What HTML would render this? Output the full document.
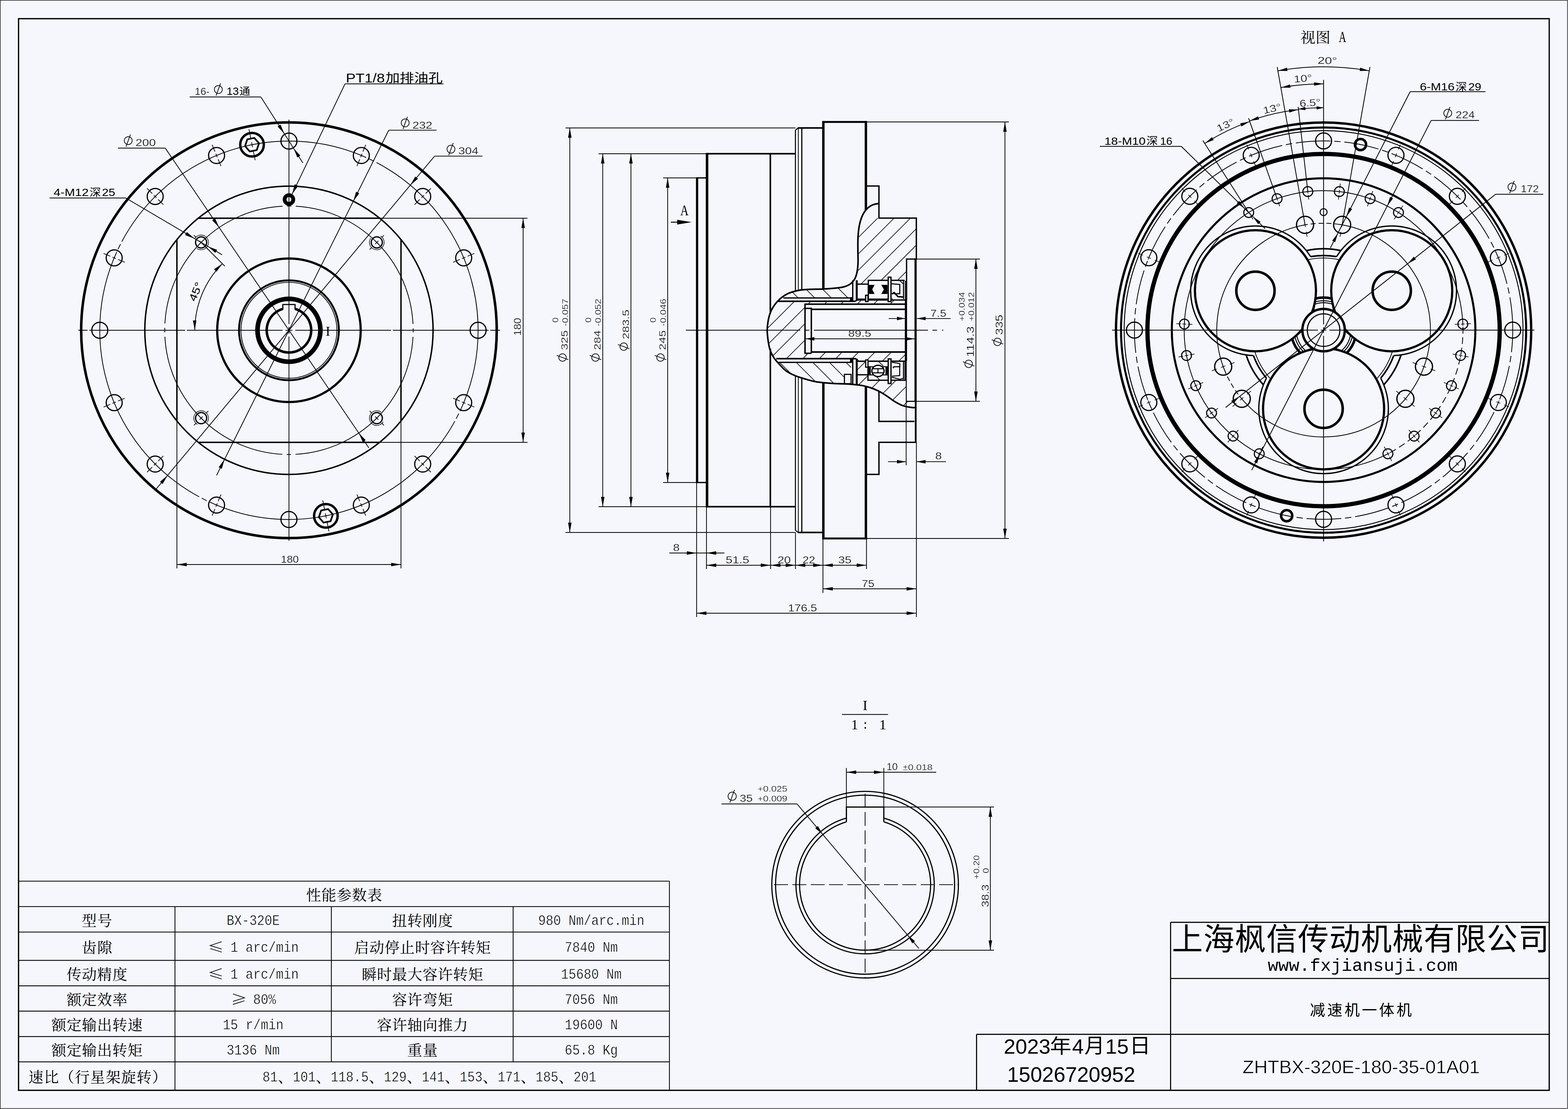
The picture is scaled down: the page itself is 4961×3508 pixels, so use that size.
<!DOCTYPE html>
<html><head><meta charset="utf-8"><title>BX-320E</title>
<style>html,body{margin:0;padding:0;background:#F5F7FC;overflow:hidden}svg{display:block}text{fill:#000;stroke:none;white-space:pre}</style>
</head><body>
<svg width="4961" height="3508" viewBox="0 0 4961 3508" stroke="#000" fill="none" font-family="Liberation Sans, sans-serif" xml:space="preserve">
<defs>
<clipPath id="c_hub"><path d="M2725.6 689.9 L2719.1 712.2 L2714.7 749.1 L2714.3 793.5 L2714.7 830.4 L2711.7 860 L2704.3 882.2 L2711 886 L2713 898.7 L2746.2 898.7 L2746.2 886.8 L2868.3 886.8 L2868.3 819.5 L2899.2 819.5 L2899.2 689.9Z"/></clipPath>
<clipPath id="c_shaft"><path d="M2866 949 L2708 949 L2704 953 L2460.1 953 L2447 970 L2436.6 990.9 L2430 1017 L2427.4 1044.4 L2429.5 1072 L2435.3 1103.2 L2447 1129.3 L2456 1134.5 L2708 1134.5 L2716 1142.8 L2866 1142.8 L2866 1113.6 L2567 1113.6 L2567 1117.5 L2547 1117.5 L2547 962.1 L2866 962.1Z"/></clipPath>
<clipPath id="c_covt"><path d="M2692.7 942.5 L2692.7 896 L2689.5 898.8 L2667.4 908 L2630.4 912.5 L2604.5 914.3 L2556.5 915.4 L2534.3 917.3 L2515.9 921 L2493.7 928.3 L2475.2 939.4 L2478.4 942.5Z"/></clipPath>
<clipPath id="c_covb"><path d="M2462.7 1146.3 L2486.2 1172.4 L2515 1188 L2546.3 1198.5 L2582.9 1207.7 L2635.2 1212.9 L2687.4 1215 L2692.7 1215.2 L2692.7 1213 L2671.7 1213 L2671.7 1184.2 L2692.7 1184.2 L2692.7 1146.3Z"/></clipPath>
<clipPath id="c_hubb"><path d="M2711 1138 L2716 1142.8 L2867.7 1142.8 L2867.7 1269.5 L2896.5 1269.5 L2896.5 1289.2 L2883.4 1288.7 L2857.3 1283.5 L2831.1 1270.4 L2805 1252.1 L2778.9 1236.4 L2752.8 1226 L2726.6 1219.4 L2711 1217.5Z"/></clipPath>
<clipPath id="c_po"><path clip-rule="evenodd" d="M3400 200H5000V1900H3400ZM3951.7 1044.2a236 236 0 1 0 472 0a236 236 0 1 0 -472 0Z"/></clipPath>
<clipPath id="c_pi"><path clip-rule="evenodd" d="M3400 200H5000V1900H3400ZM4120.7 1044.2a67 67 0 1 0 134 0a67 67 0 1 0 -134 0Z"/></clipPath>
</defs>
<rect x="0" y="0" width="4961" height="3508" fill="#F5F7FC" stroke="none"/>
<rect x="0.8" y="0.8" width="4958.6" height="3505.6" stroke-width="1.6"/>
<rect x="58.7" y="59.1" width="4842.9" height="3389.8" stroke-width="4"/>
<line x1="58.7" y1="2787.3" x2="2118" y2="2787.3" stroke-width="2.6"/>
<line x1="2118" y1="2787.3" x2="2118" y2="3448.9" stroke-width="2.6"/>
<line x1="58.7" y1="2867.8" x2="2118" y2="2867.8" stroke-width="2.6"/>
<line x1="58.7" y1="2948.3" x2="2118" y2="2948.3" stroke-width="2.6"/>
<line x1="58.7" y1="3037.9" x2="2118" y2="3037.9" stroke-width="2.6"/>
<line x1="58.7" y1="3118.4" x2="2118" y2="3118.4" stroke-width="2.6"/>
<line x1="58.7" y1="3198.4" x2="2118" y2="3198.4" stroke-width="2.6"/>
<line x1="58.7" y1="3278.9" x2="2118" y2="3278.9" stroke-width="2.6"/>
<line x1="58.7" y1="3358.9" x2="2118" y2="3358.9" stroke-width="2.6"/>
<line x1="553.6" y1="2867.8" x2="553.6" y2="3448.9" stroke-width="2.6"/>
<line x1="1048.3" y1="2867.8" x2="1048.3" y2="3358.9" stroke-width="2.6"/>
<line x1="1623.5" y1="2867.8" x2="1623.5" y2="3358.9" stroke-width="2.6"/>
<text x="968.8" y="2848.1" font-size="47" font-family="Liberation Serif, Noto Serif CJK SC, serif" textLength="240">性能参数表</text>
<text x="258.7" y="2928.6" font-size="47" font-family="Liberation Serif, Noto Serif CJK SC, serif" textLength="96">型号</text>
<text x="717" y="2925.6" font-size="47" font-family="Liberation Mono, serif" textLength="168" lengthAdjust="spacingAndGlyphs" style="stroke:#F5F7FC;stroke-width:0.9px">BX-320E</text>
<text x="1240.4" y="2928.6" font-size="47" font-family="Liberation Serif, Noto Serif CJK SC, serif" textLength="192">扭转刚度</text>
<text x="1702.8" y="2925.6" font-size="47" font-family="Liberation Mono, serif" textLength="336" lengthAdjust="spacingAndGlyphs" style="stroke:#F5F7FC;stroke-width:0.9px">980 Nm/arc.min</text>
<text x="258.7" y="3013.6" font-size="47" font-family="Liberation Serif, Noto Serif CJK SC, serif" textLength="96">齿隙</text>
<path d="M701.5 2978.7 L665 2990.9 L701.5 3002.3" stroke-width="2.2" fill="none"/>
<path d="M665 3000.5 L701.5 3011.8" stroke-width="2.2" fill="none"/>
<text x="705" y="3010.6" font-size="47" font-family="Liberation Mono, serif" textLength="240" lengthAdjust="spacingAndGlyphs" style="stroke:#F5F7FC;stroke-width:0.9px"> 1 arc/min</text>
<text x="1120.4" y="3013.6" font-size="47" font-family="Liberation Serif, Noto Serif CJK SC, serif" textLength="432">启动停止时容许转矩</text>
<text x="1786.8" y="3010.6" font-size="47" font-family="Liberation Mono, serif" textLength="168" lengthAdjust="spacingAndGlyphs" style="stroke:#F5F7FC;stroke-width:0.9px">7840 Nm</text>
<text x="210.7" y="3098.7" font-size="47" font-family="Liberation Serif, Noto Serif CJK SC, serif" textLength="192">传动精度</text>
<path d="M701.5 3063.8 L665 3076 L701.5 3087.3" stroke-width="2.2" fill="none"/>
<path d="M665 3085.6 L701.5 3096.8" stroke-width="2.2" fill="none"/>
<text x="705" y="3095.7" font-size="47" font-family="Liberation Mono, serif" textLength="240" lengthAdjust="spacingAndGlyphs" style="stroke:#F5F7FC;stroke-width:0.9px"> 1 arc/min</text>
<text x="1144.4" y="3098.7" font-size="47" font-family="Liberation Serif, Noto Serif CJK SC, serif" textLength="384">瞬时最大容许转矩</text>
<text x="1774.8" y="3095.7" font-size="47" font-family="Liberation Mono, serif" textLength="192" lengthAdjust="spacingAndGlyphs" style="stroke:#F5F7FC;stroke-width:0.9px">15680 Nm</text>
<text x="210.7" y="3178.9" font-size="47" font-family="Liberation Serif, Noto Serif CJK SC, serif" textLength="192">额定效率</text>
<path d="M737 3144 L773.5 3156.2 L737 3167.6" stroke-width="2.2" fill="none"/>
<path d="M773.5 3165.8 L737 3177.1" stroke-width="2.2" fill="none"/>
<text x="777" y="3175.9" font-size="47" font-family="Liberation Mono, serif" textLength="96" lengthAdjust="spacingAndGlyphs" style="stroke:#F5F7FC;stroke-width:0.9px"> 80%</text>
<text x="1240.4" y="3178.9" font-size="47" font-family="Liberation Serif, Noto Serif CJK SC, serif" textLength="192">容许弯矩</text>
<text x="1786.8" y="3175.9" font-size="47" font-family="Liberation Mono, serif" textLength="168" lengthAdjust="spacingAndGlyphs" style="stroke:#F5F7FC;stroke-width:0.9px">7056 Nm</text>
<text x="162.7" y="3259.2" font-size="47" font-family="Liberation Serif, Noto Serif CJK SC, serif" textLength="288">额定输出转速</text>
<text x="705" y="3256.2" font-size="47" font-family="Liberation Mono, serif" textLength="192" lengthAdjust="spacingAndGlyphs" style="stroke:#F5F7FC;stroke-width:0.9px">15 r/min</text>
<text x="1192.4" y="3259.2" font-size="47" font-family="Liberation Serif, Noto Serif CJK SC, serif" textLength="288">容许轴向推力</text>
<text x="1786.8" y="3256.2" font-size="47" font-family="Liberation Mono, serif" textLength="168" lengthAdjust="spacingAndGlyphs" style="stroke:#F5F7FC;stroke-width:0.9px">19600 N</text>
<text x="162.7" y="3339.4" font-size="47" font-family="Liberation Serif, Noto Serif CJK SC, serif" textLength="288">额定输出转矩</text>
<text x="717" y="3336.4" font-size="47" font-family="Liberation Mono, serif" textLength="168" lengthAdjust="spacingAndGlyphs" style="stroke:#F5F7FC;stroke-width:0.9px">3136 Nm</text>
<text x="1288.4" y="3339.4" font-size="47" font-family="Liberation Serif, Noto Serif CJK SC, serif" textLength="96">重量</text>
<text x="1786.8" y="3336.4" font-size="47" font-family="Liberation Mono, serif" textLength="168" lengthAdjust="spacingAndGlyphs" style="stroke:#F5F7FC;stroke-width:0.9px">65.8 Kg</text>
<text x="90.1" y="3424.4" font-size="47" font-family="Liberation Serif, Noto Serif CJK SC, serif" textLength="438">速比（行星架旋转）</text>
<text x="830.5" y="3421.4" font-size="47" font-family="Liberation Mono, serif" textLength="48" lengthAdjust="spacingAndGlyphs" style="stroke:#F5F7FC;stroke-width:0.9px">81</text>
<text x="879" y="3424.4" font-size="47" font-family="Liberation Serif, Noto Serif CJK SC, serif">、</text>
<text x="926.5" y="3421.4" font-size="47" font-family="Liberation Mono, serif" textLength="72" lengthAdjust="spacingAndGlyphs" style="stroke:#F5F7FC;stroke-width:0.9px">101</text>
<text x="999" y="3424.4" font-size="47" font-family="Liberation Serif, Noto Serif CJK SC, serif">、</text>
<text x="1046.5" y="3421.4" font-size="47" font-family="Liberation Mono, serif" textLength="120" lengthAdjust="spacingAndGlyphs" style="stroke:#F5F7FC;stroke-width:0.9px">118.5</text>
<text x="1167" y="3424.4" font-size="47" font-family="Liberation Serif, Noto Serif CJK SC, serif">、</text>
<text x="1214.5" y="3421.4" font-size="47" font-family="Liberation Mono, serif" textLength="72" lengthAdjust="spacingAndGlyphs" style="stroke:#F5F7FC;stroke-width:0.9px">129</text>
<text x="1287" y="3424.4" font-size="47" font-family="Liberation Serif, Noto Serif CJK SC, serif">、</text>
<text x="1334.5" y="3421.4" font-size="47" font-family="Liberation Mono, serif" textLength="72" lengthAdjust="spacingAndGlyphs" style="stroke:#F5F7FC;stroke-width:0.9px">141</text>
<text x="1407" y="3424.4" font-size="47" font-family="Liberation Serif, Noto Serif CJK SC, serif">、</text>
<text x="1454.5" y="3421.4" font-size="47" font-family="Liberation Mono, serif" textLength="72" lengthAdjust="spacingAndGlyphs" style="stroke:#F5F7FC;stroke-width:0.9px">153</text>
<text x="1527" y="3424.4" font-size="47" font-family="Liberation Serif, Noto Serif CJK SC, serif">、</text>
<text x="1574.5" y="3421.4" font-size="47" font-family="Liberation Mono, serif" textLength="72" lengthAdjust="spacingAndGlyphs" style="stroke:#F5F7FC;stroke-width:0.9px">171</text>
<text x="1647" y="3424.4" font-size="47" font-family="Liberation Serif, Noto Serif CJK SC, serif">、</text>
<text x="1694.5" y="3421.4" font-size="47" font-family="Liberation Mono, serif" textLength="72" lengthAdjust="spacingAndGlyphs" style="stroke:#F5F7FC;stroke-width:0.9px">185</text>
<text x="1767" y="3424.4" font-size="47" font-family="Liberation Serif, Noto Serif CJK SC, serif">、</text>
<text x="1814.5" y="3421.4" font-size="47" font-family="Liberation Mono, serif" textLength="72" lengthAdjust="spacingAndGlyphs" style="stroke:#F5F7FC;stroke-width:0.9px">201</text>
<line x1="3703.6" y1="2917.5" x2="4901.6" y2="2917.5" stroke-width="3.4"/>
<line x1="3703.6" y1="2917.5" x2="3703.6" y2="3448.9" stroke-width="3.4"/>
<line x1="3703.6" y1="3095.1" x2="4901.6" y2="3095.1" stroke-width="3.4"/>
<line x1="3089.7" y1="3271.8" x2="4901.6" y2="3271.8" stroke-width="3.4"/>
<line x1="3089.7" y1="3271.8" x2="3089.7" y2="3448.9" stroke-width="3.4"/>
<text x="3707.8" y="3004.5" font-size="98" font-family="Liberation Sans, Noto Sans CJK SC, sans-serif" textLength="1193.6">上海枫信传动机械有限公司</text>
<text x="4011" y="3070.5" font-size="56" font-family="Liberation Mono, serif" textLength="600.5" lengthAdjust="spacingAndGlyphs">www.fxjiansuji.com</text>
<text x="4144.4" y="3211.5" font-size="48" font-family="Liberation Sans, Noto Sans CJK SC, sans-serif" textLength="322">减速机一体机</text>
<text x="3931.3" y="3394.7" font-size="57" textLength="750.6" lengthAdjust="spacingAndGlyphs" style="stroke:#F5F7FC;stroke-width:0.9px">ZHTBX-320E-180-35-01A01</text>
<text x="3175.8" y="3332.7" font-size="64" textLength="148" lengthAdjust="spacingAndGlyphs">2023</text>
<text x="3321.8" y="3330.5" font-size="63" font-family="Liberation Sans, Noto Sans CJK SC, sans-serif" textLength="68" lengthAdjust="spacingAndGlyphs">年</text>
<text x="3392" y="3332.7" font-size="64" textLength="37" lengthAdjust="spacingAndGlyphs">4</text>
<text x="3431" y="3330" font-size="64" font-family="Liberation Sans, Noto Sans CJK SC, sans-serif">月</text>
<text x="3497" y="3332.7" font-size="64" textLength="74" lengthAdjust="spacingAndGlyphs">15</text>
<text x="3573.5" y="3330" font-size="64" font-family="Liberation Sans, Noto Sans CJK SC, sans-serif" textLength="67" lengthAdjust="spacingAndGlyphs">日</text>
<text x="3186.5" y="3422" font-size="66" textLength="405.5" lengthAdjust="spacingAndGlyphs">15026720952</text>
<circle cx="914.2" cy="1044.7" r="657.4" stroke-width="8" fill="none"/>
<circle cx="914.2" cy="1044.7" r="598.5" stroke-width="2.4" fill="none" stroke-dasharray="900 9 18 9" stroke-dashoffset="-300"/>
<circle cx="914.2" cy="1044.7" r="456" stroke-width="4.5" fill="none"/>
<circle cx="914.2" cy="1044.7" r="393" stroke-width="2.4" fill="none" stroke-dasharray="575.3 14 14 14" stroke-dashoffset="596.3"/>
<circle cx="914.2" cy="1044.7" r="227" stroke-width="7" fill="none"/>
<circle cx="914.2" cy="1044.7" r="158" stroke-width="6" fill="none"/>
<circle cx="914.2" cy="1044.7" r="151.8" stroke-width="2.4" fill="none"/>
<circle cx="914.2" cy="1044.7" r="99.5" stroke-width="14.6" fill="none"/>
<path d="M933.5 977A70.4 70.4 0 1 1 894.9 977" stroke-width="7.9" fill="none"/>
<path d="M894.9 979 L894.9 963.3 L933.5 963.3 L933.5 979" stroke-width="3.6" fill="none"/>
<line x1="627.4" y1="690.2" x2="1201" y2="690.2" stroke-width="4.5"/>
<line x1="627.4" y1="1399.2" x2="1201" y2="1399.2" stroke-width="4.5"/>
<line x1="559.7" y1="757.9" x2="559.7" y2="1331.5" stroke-width="4.5"/>
<line x1="1268.7" y1="757.9" x2="1268.7" y2="1331.5" stroke-width="4.5"/>
<line x1="559.7" y1="1331.5" x2="559.7" y2="1798" stroke-width="2.4"/>
<line x1="1268.7" y1="1331.5" x2="1268.7" y2="1798" stroke-width="2.4"/>
<line x1="1201" y1="690.2" x2="1669" y2="690.2" stroke-width="2.4"/>
<line x1="1201" y1="1399.2" x2="1669" y2="1399.2" stroke-width="2.4"/>
<path d="M903.2 1044.7L925.2 1044.7M934.2 1044.7L1237.2 1044.7M1242.7 1044.7L1545.7 1044.7M1551.2 1044.7L1582 1044.7M591.2 1044.7L894.2 1044.7M282.7 1044.7L585.7 1044.7M247.7 1044.7L277.2 1044.7" stroke-width="2.4" fill="none"/>
<path d="M914.2 1033.7L914.2 1055.7M914.2 1064.7L914.2 1710.8M914.2 378.6L914.2 1024.7" stroke-width="2.4" fill="none"/>
<circle cx="1512.7" cy="1044.7" r="25.3" stroke-width="3.7" fill="none"/>
<circle cx="1467.1" cy="815.7" r="25.3" stroke-width="3.7" fill="none"/>
<path d="M1433.6 829.6L1454.9 820.8M1461.6 818L1472.7 813.4M1479.4 810.6L1500.7 801.8M1464.8 810.1L1469.4 821.2" stroke-width="2.2" fill="none"/>
<circle cx="1337.4" cy="621.5" r="25.3" stroke-width="3.7" fill="none"/>
<path d="M1311.7 647.2L1328 630.9M1333.2 625.7L1341.6 617.3M1346.8 612.1L1363.1 595.8M1333.2 617.3L1341.6 625.7" stroke-width="2.2" fill="none"/>
<circle cx="1143.2" cy="491.8" r="25.3" stroke-width="3.7" fill="none"/>
<path d="M1129.3 525.3L1138.1 504M1140.9 497.3L1145.5 486.2M1148.3 479.5L1157.1 458.2M1137.7 489.5L1148.8 494.1" stroke-width="2.2" fill="none"/>
<circle cx="914.2" cy="446.2" r="25.3" stroke-width="3.7" fill="none"/>
<circle cx="685.2" cy="491.8" r="25.3" stroke-width="3.7" fill="none"/>
<path d="M699.1 525.3L690.3 504M687.5 497.3L682.9 486.2M680.1 479.5L671.3 458.2M679.6 494.1L690.7 489.5" stroke-width="2.2" fill="none"/>
<circle cx="491" cy="621.5" r="25.3" stroke-width="3.7" fill="none"/>
<path d="M516.7 647.2L500.4 630.9M495.2 625.7L486.8 617.3M481.6 612.1L465.3 595.8M486.8 625.7L495.2 617.3" stroke-width="2.2" fill="none"/>
<circle cx="361.3" cy="815.7" r="25.3" stroke-width="3.7" fill="none"/>
<path d="M394.8 829.6L373.5 820.8M366.8 818L355.7 813.4M349 810.6L327.7 801.8M359 821.2L363.6 810.1" stroke-width="2.2" fill="none"/>
<circle cx="315.7" cy="1044.7" r="25.3" stroke-width="3.7" fill="none"/>
<circle cx="361.3" cy="1273.7" r="25.3" stroke-width="3.7" fill="none"/>
<path d="M394.8 1259.8L373.5 1268.6M366.8 1271.4L355.7 1276M349 1278.8L327.7 1287.6M363.6 1279.3L359 1268.2" stroke-width="2.2" fill="none"/>
<circle cx="491" cy="1467.9" r="25.3" stroke-width="3.7" fill="none"/>
<path d="M516.7 1442.2L500.4 1458.5M495.2 1463.7L486.8 1472.1M481.6 1477.3L465.3 1493.6M495.2 1472.1L486.8 1463.7" stroke-width="2.2" fill="none"/>
<circle cx="685.2" cy="1597.6" r="25.3" stroke-width="3.7" fill="none"/>
<path d="M699.1 1564.1L690.3 1585.4M687.5 1592.1L682.9 1603.2M680.1 1609.9L671.3 1631.2M690.7 1599.9L679.6 1595.3" stroke-width="2.2" fill="none"/>
<circle cx="914.2" cy="1643.2" r="25.3" stroke-width="3.7" fill="none"/>
<circle cx="1143.2" cy="1597.6" r="25.3" stroke-width="3.7" fill="none"/>
<path d="M1129.3 1564.1L1138.1 1585.4M1140.9 1592.1L1145.5 1603.2M1148.3 1609.9L1157.1 1631.2M1148.8 1595.3L1137.7 1599.9" stroke-width="2.2" fill="none"/>
<circle cx="1337.4" cy="1467.9" r="25.3" stroke-width="3.7" fill="none"/>
<path d="M1311.7 1442.2L1328 1458.5M1333.2 1463.7L1341.6 1472.1M1346.8 1477.3L1363.1 1493.6M1341.6 1463.7L1333.2 1472.1" stroke-width="2.2" fill="none"/>
<circle cx="1467.1" cy="1273.7" r="25.3" stroke-width="3.7" fill="none"/>
<path d="M1433.6 1259.8L1454.9 1268.6M1461.6 1271.4L1472.7 1276M1479.4 1278.8L1500.7 1287.6M1469.4 1268.2L1464.8 1279.3" stroke-width="2.2" fill="none"/>
<circle cx="797.4" cy="457.7" r="37.3" stroke-width="7.5" fill="none"/>
<path d="M775.3 462.1 L790.2 479.1 L812.3 474.7 L819.6 453.3 L804.7 436.3 L782.5 440.7Z" stroke-width="5.2" fill="none" stroke-linejoin="miter"/>
<path d="M807.2 506.7L800.8 474.4M799 465.5L795.9 449.9M794.1 441L787.7 408.7M791.6 458.9L803.3 456.5" stroke-width="2.2" fill="none"/>
<circle cx="1031" cy="1631.7" r="37.3" stroke-width="7.5" fill="none"/>
<path d="M1053.1 1627.3 L1038.2 1610.3 L1016.1 1614.7 L1008.8 1636.1 L1023.7 1653.1 L1045.9 1648.7Z" stroke-width="5.2" fill="none" stroke-linejoin="miter"/>
<path d="M1021.2 1582.7L1027.6 1615M1029.4 1623.9L1032.5 1639.5M1034.3 1648.4L1040.7 1680.7M1036.8 1630.5L1025.1 1632.9" stroke-width="2.2" fill="none"/>
<circle cx="1192.1" cy="766.8" r="17.6" stroke-width="4" fill="none"/>
<path d="M1173 753.4A23.3 23.3 0 1 0 1203.7 746.6" stroke-width="1.8" fill="none"/>
<path d="M1187.1 771.8L1197 761.9M1187.1 761.9L1197 771.8M1169.5 789.4L1176.5 782.4M1207.6 751.3L1214.7 744.2" stroke-width="2.2" fill="none"/>
<circle cx="636.3" cy="766.8" r="17.6" stroke-width="4" fill="none"/>
<path d="M622.9 785.9A23.3 23.3 0 1 0 616.1 755.2" stroke-width="1.8" fill="none"/>
<path d="M641.3 771.8L631.4 761.9M631.4 771.8L641.3 761.9M658.9 789.4L651.9 782.4M620.8 751.3L613.7 744.2" stroke-width="2.2" fill="none"/>
<circle cx="636.3" cy="1322.6" r="17.6" stroke-width="4" fill="none"/>
<path d="M655.4 1336A23.3 23.3 0 1 0 624.7 1342.8" stroke-width="1.8" fill="none"/>
<path d="M641.3 1317.6L631.4 1327.5M641.3 1327.5L631.4 1317.6M658.9 1300L651.9 1307M620.8 1338.1L613.7 1345.2" stroke-width="2.2" fill="none"/>
<circle cx="1192.1" cy="1322.6" r="17.6" stroke-width="4" fill="none"/>
<path d="M1205.5 1303.5A23.3 23.3 0 1 0 1212.3 1334.2" stroke-width="1.8" fill="none"/>
<path d="M1187.1 1317.6L1197 1327.5M1197 1317.6L1187.1 1327.5M1169.5 1300L1176.5 1307M1207.6 1338.1L1214.7 1345.2" stroke-width="2.2" fill="none"/>
<circle cx="914.2" cy="631" r="13.7" stroke-width="12" fill="none"/>
<text x="1037.3" y="1061.5" font-size="43" font-family="Liberation Serif, serif" text-anchor="middle">I</text>
<line x1="1375" y1="493.9" x2="493.6" y2="1547.5" stroke-width="2.4"/>
<line x1="1375" y1="493.9" x2="1526.5" y2="493.9" stroke-width="2.4"/>
<path d="M1298.2 585.7L1313.9 558.4L1322.3 565.4Z" fill="#000" stroke="none"/>
<path d="M530.2 1503.7L514.5 1531L506.1 1524Z" fill="#000" stroke="none"/>
<g fill="none" stroke-width="2.2"><circle cx="1426.8" cy="471.8" r="12.5"/><line x1="1419.7" y1="491.2" x2="1433.9" y2="452.4"/></g>
<text x="1450" y="488.4" font-size="31" textLength="63.6" lengthAdjust="spacingAndGlyphs" style="stroke:#F5F7FC;stroke-width:0.5px">304</text>
<line x1="1229.9" y1="411.9" x2="685.2" y2="1503.7" stroke-width="2.4"/>
<line x1="1229.9" y1="411.9" x2="1381.4" y2="411.9" stroke-width="2.4"/>
<path d="M1117.8 636.7L1126.7 606.5L1136.5 611.4Z" fill="#000" stroke="none"/>
<path d="M710.6 1452.7L701.7 1482.9L691.9 1478Z" fill="#000" stroke="none"/>
<g fill="none" stroke-width="2.2"><circle cx="1282" cy="388.7" r="12.5"/><line x1="1274.9" y1="408.1" x2="1289.1" y2="369.3"/></g>
<text x="1304.9" y="407" font-size="31" textLength="62.8" lengthAdjust="spacingAndGlyphs" style="stroke:#F5F7FC;stroke-width:0.5px">232</text>
<line x1="522.8" y1="468.5" x2="1167.1" y2="1416.9" stroke-width="2.4"/>
<line x1="522.8" y1="468.5" x2="373" y2="468.5" stroke-width="2.4"/>
<path d="M693.4 719.6L671.4 697.1L680.5 690.9Z" fill="#000" stroke="none"/>
<path d="M1135 1369.8L1157 1392.3L1147.9 1398.5Z" fill="#000" stroke="none"/>
<g fill="none" stroke-width="2.2"><circle cx="405.7" cy="444.8" r="12.5"/><line x1="398.6" y1="464.2" x2="412.8" y2="425.4"/></g>
<text x="428.7" y="462.2" font-size="31" textLength="64.2" lengthAdjust="spacingAndGlyphs" style="stroke:#F5F7FC;stroke-width:0.5px">200</text>
<line x1="600" y1="306.8" x2="825.4" y2="306.8" stroke-width="2.4"/>
<line x1="825.4" y1="306.8" x2="958.3" y2="515.4" stroke-width="2.4"/>
<path d="M899.6 423.3L878.3 400.1L887.6 394.2Z" fill="#000" stroke="none"/>
<path d="M928.8 469.1L950.1 492.3L940.8 498.2Z" fill="#000" stroke="none"/>
<text x="616.3" y="300" font-size="31" textLength="46.8" lengthAdjust="spacingAndGlyphs" style="stroke:#F5F7FC;stroke-width:0.5px">16-</text>
<g fill="none" stroke-width="2.2"><circle cx="690.8" cy="283.1" r="12.5"/><line x1="683.7" y1="302.5" x2="697.9" y2="263.7"/></g>
<text x="717" y="300" font-size="33" textLength="38.5" lengthAdjust="spacingAndGlyphs">13</text>
<text x="757.6" y="299.5" font-size="32" font-family="Liberation Sans, Noto Sans CJK SC, sans-serif" textLength="34" lengthAdjust="spacingAndGlyphs">通</text>
<line x1="1091.7" y1="265.3" x2="1403" y2="265.3" stroke-width="2.6"/>
<line x1="1091.7" y1="265.3" x2="924.2" y2="614.1" stroke-width="2.4"/>
<path d="M924.2 614.1L932.6 582.7L943.5 587.9Z" fill="#000" stroke="none"/>
<text x="1094.3" y="260.5" font-size="40" textLength="123" lengthAdjust="spacingAndGlyphs">PT1/8</text>
<text x="1219.4" y="259.5" font-size="39" font-family="Liberation Sans, Noto Sans CJK SC, sans-serif" textLength="181" lengthAdjust="spacingAndGlyphs">加排油孔</text>
<line x1="156.8" y1="626.2" x2="397.8" y2="626.2" stroke-width="2.4"/>
<line x1="397.8" y1="626.2" x2="702.6" y2="805.9" stroke-width="2.4"/>
<path d="M615.2 754.4L585.7 743.4L591.3 733.9Z" fill="#000" stroke="none"/>
<path d="M657.4 779.2L686.9 790.3L681.3 799.7Z" fill="#000" stroke="none"/>
<text x="169.6" y="620" font-size="33" textLength="111" lengthAdjust="spacingAndGlyphs">4-M12</text>
<text x="283.3" y="620" font-size="33" font-family="Liberation Sans, Noto Sans CJK SC, sans-serif" textLength="36" lengthAdjust="spacingAndGlyphs">深</text>
<text x="322.5" y="620" font-size="33" textLength="42" lengthAdjust="spacingAndGlyphs">25</text>
<path d="M703.6 834.1A297.8 297.8 0 0 0 616.4 1044.7" stroke-width="2.4" fill="none"/>
<path d="M616.4 1044.7L610.3 1013.8L621.3 1013.6Z" fill="#000" stroke="none"/>
<path d="M703.6 834.1L685 859.5L677.4 851.6Z" fill="#000" stroke="none"/>
<line x1="636.3" y1="766.8" x2="711.3" y2="841.8" stroke-width="2.4"/>
<text x="629.6" y="926.8" font-size="33" text-anchor="middle" textLength="62" lengthAdjust="spacingAndGlyphs" transform="rotate(-67.5 629.6 926.8)">45°</text>
<line x1="559.7" y1="1785.7" x2="1268.7" y2="1785.7" stroke-width="2.4"/>
<path d="M559.7 1785.7L590.7 1780.2L590.7 1791.2Z" fill="#000" stroke="none"/>
<path d="M1268.7 1785.7L1237.7 1791.2L1237.7 1780.2Z" fill="#000" stroke="none"/>
<text x="888.5" y="1779.8" font-size="31" textLength="56.8" lengthAdjust="spacingAndGlyphs" style="stroke:#F5F7FC;stroke-width:0.5px">180</text>
<line x1="1655.1" y1="690.2" x2="1655.1" y2="1399.2" stroke-width="2.4"/>
<path d="M1655.1 690.2L1660.6 721.2L1649.6 721.2Z" fill="#000" stroke="none"/>
<path d="M1655.1 1399.2L1649.6 1368.2L1660.6 1368.2Z" fill="#000" stroke="none"/>
<text x="1648" y="1062" font-size="31" textLength="56.8" lengthAdjust="spacingAndGlyphs" transform="rotate(-90 1648 1062)" style="stroke:#F5F7FC;stroke-width:0.5px">180</text>
<path d="M2700 611.2L2905 406.2M2700 663.1L2905 458.1M2700 715L2905 510M2700 766.9L2905 561.9M2700 818.8L2905 613.8M2700 870.7L2905 665.7M2700 922.6L2905 717.6M2700 974.5L2905 769.5M2700 1026.4L2905 821.4M2700 1078.3L2905 873.3M2700 1130.2L2905 925.2" stroke-width="2" clip-path="url(#c_hub)"/>
<path d="M2420 891.2L2870 441.2M2420 943.1L2870 493.1M2420 995L2870 545M2420 1046.9L2870 596.9M2420 1098.8L2870 648.8M2420 1150.7L2870 700.7M2420 1202.6L2870 752.6M2420 1254.5L2870 804.5M2420 1306.4L2870 856.4M2420 1358.3L2870 908.3M2420 1410.2L2870 960.2M2420 1462.1L2870 1012.1M2420 1514L2870 1064M2420 1565.9L2870 1115.9M2420 1617.8L2870 1167.8" stroke-width="2" clip-path="url(#c_shaft)"/>
<path d="M2470 624.6L2700 854.6M2470 677.1L2700 907.1M2470 729.6L2700 959.6M2470 782.1L2700 1012.1M2470 834.6L2700 1064.6M2470 887.1L2700 1117.1M2470 939.6L2700 1169.6M2470 992.1L2700 1222.1" stroke-width="2" clip-path="url(#c_covt)"/>
<path d="M2460 877.1L2700 1117.1M2460 929.6L2700 1169.6M2460 982.1L2700 1222.1M2460 1034.6L2700 1274.6M2460 1087.1L2700 1327.1M2460 1139.6L2700 1379.6M2460 1192.1L2700 1432.1M2460 1244.6L2700 1484.6" stroke-width="2" clip-path="url(#c_covb)"/>
<path d="M2705 1125.2L2900 930.2M2705 1177.1L2900 982.1M2705 1229L2900 1034M2705 1280.9L2900 1085.9M2705 1332.8L2900 1137.8M2705 1384.7L2900 1189.7M2705 1436.6L2900 1241.6M2705 1488.5L2900 1293.5M2705 1540.4L2900 1345.4" stroke-width="2" clip-path="url(#c_hubb)"/>
<line x1="2205.5" y1="560.7" x2="2205.5" y2="1528.3" stroke-width="7.2"/>
<line x1="2205.5" y1="562.7" x2="2237" y2="562.7" stroke-width="4"/>
<line x1="2205.5" y1="1526.3" x2="2237" y2="1526.3" stroke-width="4"/>
<line x1="2237" y1="483.8" x2="2237" y2="1605.2" stroke-width="8"/>
<line x1="2237" y1="486.3" x2="2516.6" y2="486.3" stroke-width="5"/>
<line x1="2237" y1="1602.7" x2="2516.6" y2="1602.7" stroke-width="5"/>
<line x1="2437.3" y1="486.3" x2="2437.3" y2="990.9" stroke-width="5"/>
<line x1="2437.3" y1="1103" x2="2437.3" y2="1602.7" stroke-width="5"/>
<line x1="2516.6" y1="411.8" x2="2516.6" y2="921" stroke-width="3.2"/>
<line x1="2516.6" y1="1189" x2="2516.6" y2="1677.2" stroke-width="3.2"/>
<line x1="2516.6" y1="411.8" x2="2525.1" y2="404.8" stroke-width="3.2"/>
<line x1="2516.6" y1="1677.2" x2="2525.1" y2="1684.2" stroke-width="3.2"/>
<line x1="2525.8" y1="404.8" x2="2525.8" y2="918.5" stroke-width="2.4"/>
<line x1="2525.8" y1="1192.5" x2="2525.8" y2="1684.2" stroke-width="2.4"/>
<line x1="2536.8" y1="404.8" x2="2536.8" y2="917" stroke-width="3.6"/>
<line x1="2536.8" y1="1195.5" x2="2536.8" y2="1684.2" stroke-width="3.6"/>
<line x1="2524.6" y1="404.8" x2="2605" y2="404.8" stroke-width="5"/>
<line x1="2524.6" y1="1684.2" x2="2605" y2="1684.2" stroke-width="5"/>
<line x1="2605" y1="382.8" x2="2605" y2="914" stroke-width="7.6"/>
<line x1="2605" y1="1211" x2="2605" y2="1706.2" stroke-width="7.6"/>
<line x1="2605" y1="385.8" x2="2739.6" y2="385.8" stroke-width="6"/>
<line x1="2605" y1="1703.2" x2="2739.6" y2="1703.2" stroke-width="6"/>
<line x1="2739.6" y1="382.8" x2="2739.6" y2="664" stroke-width="7.6"/>
<line x1="2739.6" y1="1223.5" x2="2739.6" y2="1706.2" stroke-width="7.6"/>
<path d="M2739.6 588.3 L2780.9 588.3 L2780.9 689.9 L2899.2 689.9 L2899.2 819.5" stroke-width="4.3" fill="none"/>
<path d="M2901.2 819.5 L2868.3 819.5 L2868.3 949" stroke-width="4" fill="none"/>
<line x1="2896.8" y1="817.5" x2="2896.8" y2="1271.5" stroke-width="6.8"/>
<path d="M2739.6 1500.7 L2780.9 1500.7 L2780.9 1399.1 L2899.2 1399.1" stroke-width="4.3" fill="none"/>
<line x1="2897.2" y1="1269.5" x2="2897.2" y2="1399.1" stroke-width="5.5"/>
<path d="M2780.9 1238 L2780.9 1333 L2893 1333" stroke-width="4.3" fill="none"/>
<line x1="2867.3" y1="1140" x2="2867.3" y2="1269.5" stroke-width="3"/>
<line x1="2867.3" y1="1269.5" x2="2896" y2="1269.5" stroke-width="3.5"/>
<path d="M2780.9 643.4C2777.4 644.3 2766.4 645.5 2759.8 648.6C2753.2 651.8 2746.6 656.6 2741.3 662.3C2736.1 668 2732 674.3 2728.3 682.6C2724.6 690.9 2721.4 701.1 2719.1 712.2C2716.8 723.3 2715.5 735.6 2714.7 749.1C2713.9 762.6 2714.3 780 2714.3 793.5C2714.3 807 2715.1 819.3 2714.7 830.4C2714.3 841.5 2713.4 851.4 2711.7 860C2710 868.6 2708 875.7 2704.3 882.2C2700.6 888.7 2695.7 894.5 2689.5 898.8C2683.3 903.1 2677.2 905.7 2667.4 908C2657.6 910.3 2640.9 911.5 2630.4 912.5C2619.9 913.5 2616.8 913.8 2604.5 914.3C2592.2 914.8 2568.2 914.9 2556.5 915.4C2544.8 915.9 2541.1 916.4 2534.3 917.3C2527.5 918.2 2522.7 919.2 2515.9 921C2509.1 922.8 2500.5 925.2 2493.7 928.3C2486.9 931.4 2480.8 935.3 2475.2 939.4C2469.6 943.5 2464.8 947.9 2460.1 953C2455.4 958.1 2450.9 963.7 2447 970C2443.1 976.3 2439.4 983.1 2436.6 990.9C2433.8 998.7 2431.5 1008.1 2430 1017C2428.5 1025.9 2427.5 1035.2 2427.4 1044.4C2427.3 1053.6 2428.2 1062.2 2429.5 1072C2430.8 1081.8 2432.4 1093.7 2435.3 1103.2C2438.2 1112.8 2442.4 1121.7 2447 1129.3C2451.6 1136.9 2456.2 1141.7 2462.7 1148.9C2469.2 1156.1 2477.5 1165.9 2486.2 1172.4C2494.9 1178.9 2505 1183.7 2515 1188C2525 1192.3 2535 1195.2 2546.3 1198.5C2557.6 1201.8 2568.1 1205.3 2582.9 1207.7C2597.7 1210.1 2617.8 1211.7 2635.2 1212.9C2652.6 1214.1 2672.2 1213.9 2687.4 1215C2702.6 1216.1 2715.7 1217.6 2726.6 1219.4C2737.5 1221.2 2744.1 1223.2 2752.8 1226C2761.5 1228.8 2770.2 1232.1 2778.9 1236.4C2787.6 1240.8 2796.3 1246.4 2805 1252.1C2813.7 1257.8 2822.4 1265.2 2831.1 1270.4C2839.8 1275.6 2848.6 1280.5 2857.3 1283.5C2866 1286.5 2876.9 1287.8 2883.4 1288.7C2889.9 1289.7 2894.3 1289.1 2896.5 1289.2" stroke-width="5" fill="none"/>
<line x1="2478.4" y1="942.5" x2="2692.7" y2="942.5" stroke-width="4"/>
<line x1="2462" y1="953" x2="2706" y2="953" stroke-width="5"/>
<path d="M2706 953 L2712 949 L2866 949" stroke-width="4.2" fill="none"/>
<line x1="2547" y1="962.1" x2="2866" y2="962.1" stroke-width="4.6"/>
<line x1="2567" y1="978.5" x2="2863" y2="978.5" stroke-width="5"/>
<path d="M2547 960 L2547 1117.5 L2567 1117.5" stroke-width="4.6" fill="none"/>
<path d="M2549 975.5 L2567 975.5 L2567 1117.5" stroke-width="4.6" fill="none"/>
<line x1="2567" y1="1113.6" x2="2863" y2="1113.6" stroke-width="5"/>
<line x1="2456" y1="1134.5" x2="2708" y2="1134.5" stroke-width="5"/>
<path d="M2708 1134.5 L2716 1142.8 L2866 1142.8" stroke-width="4.4" fill="none"/>
<line x1="2462.7" y1="1146.3" x2="2692.7" y2="1146.3" stroke-width="4"/>
<line x1="2866.3" y1="947" x2="2866.3" y2="1141" stroke-width="7"/>
<line x1="2692.7" y1="940" x2="2692.7" y2="955" stroke-width="7"/>
<line x1="2698" y1="886.5" x2="2698" y2="951" stroke-width="4"/>
<line x1="2710.6" y1="886.5" x2="2710.6" y2="951" stroke-width="6.2"/>
<line x1="2713" y1="898.7" x2="2746.2" y2="898.7" stroke-width="4"/>
<line x1="2713" y1="946.3" x2="2824" y2="946.3" stroke-width="4"/>
<path d="M2862 886.8 L2747.2 886.8 L2747.2 948" stroke-width="4" fill="none"/>
<path d="M2749.5 901.5 L2766.4 901.5 L2759.1 915.5 L2766.4 929.3 L2749.5 929.3Z" stroke-width="1" fill="#000"/>
<path d="M2807.2 901.5 L2789.1 901.5 L2797 915.5 L2789.1 929.3 L2807.2 929.3Z" stroke-width="1" fill="#000"/>
<rect x="2810.2" y="876.8" width="8.8" height="77.2" stroke-width="4" fill="#F5F7FC"/>
<rect x="2738.8" y="934" width="7.4" height="20" stroke-width="4" fill="#F5F7FC"/>
<path d="M2821 897.6 L2846.8 899.8 L2846.8 929.3 L2828.7 929.3" stroke-width="3.4" fill="none"/>
<path d="M2822 930 L2829 925.5 L2841.2 938.3 L2858.2 939.5" stroke-width="4.5" fill="none"/>
<line x1="2858.6" y1="888" x2="2858.6" y2="946" stroke-width="3.4"/>
<line x1="2864.3" y1="888" x2="2864.3" y2="948" stroke-width="3"/>
<path d="M2847 888 L2858 898" stroke-width="2.4" fill="none"/>
<line x1="2698" y1="1134.5" x2="2698" y2="1216" stroke-width="4"/>
<line x1="2710.6" y1="1134.5" x2="2710.6" y2="1217.5" stroke-width="6.2"/>
<line x1="2692.7" y1="1133" x2="2692.7" y2="1148" stroke-width="7"/>
<rect x="2671.7" y="1184.2" width="21" height="29.5" stroke-width="3.6" fill="#F5F7FC"/>
<line x1="2713" y1="1185.5" x2="2746.2" y2="1185.5" stroke-width="4"/>
<rect x="2746.2" y="1142.8" width="117.6" height="60" stroke-width="4" fill="#F5F7FC"/>
<rect x="2748.5" y="1160" width="59" height="26" stroke-width="3" fill="#F5F7FC"/>
<rect x="2749.5" y="1161.5" width="5.5" height="23" fill="#000" stroke="none"/>
<rect x="2801.5" y="1161.5" width="5.7" height="23" fill="#000" stroke="none"/>
<line x1="2780" y1="1144" x2="2794.8" y2="1157.6" stroke-width="2.2"/>
<line x1="2774.4" y1="1192.7" x2="2783.4" y2="1201.7" stroke-width="2.2"/>
<ellipse cx="2777.8" cy="1173.4" rx="19.3" ry="17.8" stroke-width="4" fill="#F5F7FC"/>
<line x1="2760.5" y1="1166.4" x2="2795" y2="1166.4" stroke-width="3.2"/>
<line x1="2760.5" y1="1179.4" x2="2795" y2="1179.4" stroke-width="3.2"/>
<line x1="2777.8" y1="1167" x2="2777.8" y2="1179" stroke-width="3"/>
<rect x="2810.2" y="1135.2" width="8.8" height="78" stroke-width="4" fill="#F5F7FC"/>
<rect x="2738.8" y="1138.5" width="7.4" height="23" stroke-width="3.6" fill="#F5F7FC"/>
<path d="M2822 1146 L2847 1150 L2847 1160 L2829 1160 L2827 1163 L2825 1160" stroke-width="3.2" fill="none"/>
<path d="M2829 1160 L2846.5 1160 L2846.5 1188 L2822 1190" stroke-width="3.2" fill="none"/>
<path d="M2822 1193 L2847 1200 L2860 1196" stroke-width="3" fill="none"/>
<line x1="2858.6" y1="1145" x2="2858.6" y2="1200" stroke-width="3.4"/>
<path d="M2170 1044.5H2532M2546 1044.5H2561M2575 1044.5H2936M2950 1044.5H2964.5M2980.5 1044.5H2984.5" stroke-width="2.4" fill="none"/>
<line x1="1802.8" y1="404.8" x2="1802.8" y2="1684.2" stroke-width="2.4"/>
<path d="M1802.8 404.8L1808.3 435.8L1797.3 435.8Z" fill="#000" stroke="none"/>
<path d="M1802.8 1684.2L1797.3 1653.2L1808.3 1653.2Z" fill="#000" stroke="none"/>
<line x1="1907" y1="486.3" x2="1907" y2="1602.7" stroke-width="2.4"/>
<path d="M1907 486.3L1912.5 517.3L1901.5 517.3Z" fill="#000" stroke="none"/>
<path d="M1907 1602.7L1901.5 1571.7L1912.5 1571.7Z" fill="#000" stroke="none"/>
<line x1="1996.2" y1="486.3" x2="1996.2" y2="1602.7" stroke-width="2.4"/>
<path d="M1996.2 486.3L2001.7 517.3L1990.7 517.3Z" fill="#000" stroke="none"/>
<path d="M1996.2 1602.7L1990.7 1571.7L2001.7 1571.7Z" fill="#000" stroke="none"/>
<line x1="2112.4" y1="562.7" x2="2112.4" y2="1526.3" stroke-width="2.4"/>
<path d="M2112.4 562.7L2117.9 593.7L2106.9 593.7Z" fill="#000" stroke="none"/>
<path d="M2112.4 1526.3L2106.9 1495.3L2117.9 1495.3Z" fill="#000" stroke="none"/>
<line x1="1789.2" y1="404.8" x2="2516.6" y2="404.8" stroke-width="2.4"/>
<line x1="1789.2" y1="1684.2" x2="2516.6" y2="1684.2" stroke-width="2.4"/>
<line x1="1893.7" y1="486.3" x2="2237" y2="486.3" stroke-width="2.4"/>
<line x1="1893.7" y1="1602.7" x2="2237" y2="1602.7" stroke-width="2.4"/>
<line x1="2098.2" y1="562.7" x2="2205.5" y2="562.7" stroke-width="2.4"/>
<line x1="2098.2" y1="1526.3" x2="2205.5" y2="1526.3" stroke-width="2.4"/>
<line x1="3179.6" y1="385.8" x2="3179.6" y2="1703.2" stroke-width="2.4"/>
<path d="M3179.6 385.8L3185.1 416.8L3174.1 416.8Z" fill="#000" stroke="none"/>
<path d="M3179.6 1703.2L3174.1 1672.2L3185.1 1672.2Z" fill="#000" stroke="none"/>
<line x1="2739.6" y1="385.8" x2="3191.8" y2="385.8" stroke-width="2.4"/>
<line x1="2739.6" y1="1703.2" x2="3191.8" y2="1703.2" stroke-width="2.4"/>
<line x1="3087.7" y1="819.5" x2="3087.7" y2="1269.5" stroke-width="2.4"/>
<path d="M3087.7 819.5L3093.2 850.5L3082.2 850.5Z" fill="#000" stroke="none"/>
<path d="M3087.7 1269.5L3082.2 1238.5L3093.2 1238.5Z" fill="#000" stroke="none"/>
<line x1="2899.2" y1="819.5" x2="3100.4" y2="819.5" stroke-width="2.4"/>
<line x1="2899.2" y1="1269.5" x2="3100.4" y2="1269.5" stroke-width="2.4"/>
<text x="1796.1" y="1107.4" font-size="30" textLength="62.8" lengthAdjust="spacingAndGlyphs" transform="rotate(-90 1796.1 1107.4)" style="stroke:#F5F7FC;stroke-width:0.5px">325</text>
<g fill="none" stroke-width="2.2" transform="rotate(-90 1779.8 1131)"><circle cx="1779.8" cy="1131" r="11.8"/><line x1="1773.1" y1="1149.3" x2="1786.5" y2="1112.7"/></g>
<text x="1797.1" y="1032.3" font-size="25" textLength="87.5" lengthAdjust="spacingAndGlyphs" transform="rotate(-90 1797.1 1032.3)" style="stroke:#F5F7FC;stroke-width:0.5px">-0.057</text>
<text x="1765.9" y="1020.5" font-size="25" textLength="16.5" lengthAdjust="spacingAndGlyphs" transform="rotate(-90 1765.9 1020.5)" style="stroke:#F5F7FC;stroke-width:0.5px">0</text>
<text x="1900.3" y="1107.4" font-size="30" textLength="62.8" lengthAdjust="spacingAndGlyphs" transform="rotate(-90 1900.3 1107.4)" style="stroke:#F5F7FC;stroke-width:0.5px">284</text>
<g fill="none" stroke-width="2.2" transform="rotate(-90 1884 1131)"><circle cx="1884" cy="1131" r="11.8"/><line x1="1877.3" y1="1149.3" x2="1890.7" y2="1112.7"/></g>
<text x="1901.3" y="1032.3" font-size="25" textLength="87.5" lengthAdjust="spacingAndGlyphs" transform="rotate(-90 1901.3 1032.3)" style="stroke:#F5F7FC;stroke-width:0.5px">-0.052</text>
<text x="1870" y="1020.5" font-size="25" textLength="16.5" lengthAdjust="spacingAndGlyphs" transform="rotate(-90 1870 1020.5)" style="stroke:#F5F7FC;stroke-width:0.5px">0</text>
<text x="1989.7" y="1072.9" font-size="30" textLength="93.6" lengthAdjust="spacingAndGlyphs" transform="rotate(-90 1989.7 1072.9)" style="stroke:#F5F7FC;stroke-width:0.5px">283.5</text>
<g fill="none" stroke-width="2.2" transform="rotate(-90 1973.4 1096.5)"><circle cx="1973.4" cy="1096.5" r="11.8"/><line x1="1966.7" y1="1114.8" x2="1980.1" y2="1078.2"/></g>
<text x="2106" y="1107.4" font-size="30" textLength="62.8" lengthAdjust="spacingAndGlyphs" transform="rotate(-90 2106 1107.4)" style="stroke:#F5F7FC;stroke-width:0.5px">245</text>
<g fill="none" stroke-width="2.2" transform="rotate(-90 2089.7 1131)"><circle cx="2089.7" cy="1131" r="11.8"/><line x1="2083" y1="1149.3" x2="2096.4" y2="1112.7"/></g>
<text x="2107" y="1032.3" font-size="25" textLength="87.5" lengthAdjust="spacingAndGlyphs" transform="rotate(-90 2107 1032.3)" style="stroke:#F5F7FC;stroke-width:0.5px">-0.046</text>
<text x="2075" y="1020.5" font-size="25" textLength="16.5" lengthAdjust="spacingAndGlyphs" transform="rotate(-90 2075 1020.5)" style="stroke:#F5F7FC;stroke-width:0.5px">0</text>
<text x="3081" y="1129.6" font-size="32" textLength="97.3" lengthAdjust="spacingAndGlyphs" transform="rotate(-90 3081 1129.6)" style="stroke:#F5F7FC;stroke-width:0.5px">114.3</text>
<g fill="none" stroke-width="2.2" transform="rotate(-90 3064.7 1151)"><circle cx="3064.7" cy="1151" r="11.8"/><line x1="3058" y1="1169.3" x2="3071.4" y2="1132.7"/></g>
<text x="3082" y="1016.3" font-size="25" textLength="92.4" lengthAdjust="spacingAndGlyphs" transform="rotate(-90 3082 1016.3)" style="stroke:#F5F7FC;stroke-width:0.5px">+0.012</text>
<text x="3052.5" y="1016.3" font-size="25" textLength="92.4" lengthAdjust="spacingAndGlyphs" transform="rotate(-90 3052.5 1016.3)" style="stroke:#F5F7FC;stroke-width:0.5px">+0.034</text>
<text x="3172.2" y="1059.4" font-size="32" textLength="64.1" lengthAdjust="spacingAndGlyphs" transform="rotate(-90 3172.2 1059.4)" style="stroke:#F5F7FC;stroke-width:0.5px">335</text>
<g fill="none" stroke-width="2.2" transform="rotate(-90 3155.9 1081.5)"><circle cx="3155.9" cy="1081.5" r="11.8"/><line x1="3149.2" y1="1099.8" x2="3162.6" y2="1063.2"/></g>
<line x1="2811.5" y1="1007.6" x2="2864" y2="1007.6" stroke-width="2.4"/>
<path d="M2864 1007.6L2838 1013.1L2838 1002.1Z" fill="#000" stroke="none"/>
<line x1="2900.5" y1="1007.6" x2="3007.6" y2="1007.6" stroke-width="2.4"/>
<path d="M2900.5 1007.6L2928.5 1002.1L2928.5 1013.1Z" fill="#000" stroke="none"/>
<text x="2943.6" y="1001.5" font-size="31" textLength="50.5" lengthAdjust="spacingAndGlyphs" style="stroke:#F5F7FC;stroke-width:0.5px">7.5</text>
<line x1="2547.6" y1="1071.8" x2="2894" y2="1071.8" stroke-width="2.4"/>
<path d="M2547.6 1071.8L2576.6 1066.3L2576.6 1077.3Z" fill="#000" stroke="none"/>
<path d="M2894 1071.8L2865 1077.3L2865 1066.3Z" fill="#000" stroke="none"/>
<text x="2683.5" y="1065.3" font-size="30" textLength="73" lengthAdjust="spacingAndGlyphs" style="stroke:#F5F7FC;stroke-width:0.5px">89.5</text>
<line x1="2204" y1="1526.3" x2="2204" y2="1951.8" stroke-width="2.4"/>
<line x1="2235.2" y1="1602.7" x2="2235.2" y2="1800" stroke-width="2.4"/>
<line x1="2438" y1="1602.7" x2="2438" y2="1800" stroke-width="2.4"/>
<line x1="2516.8" y1="1684.2" x2="2516.8" y2="1800" stroke-width="2.4"/>
<line x1="2603.8" y1="1703.2" x2="2603.8" y2="1875.4" stroke-width="2.4"/>
<line x1="2741.5" y1="1703.2" x2="2741.5" y2="1800" stroke-width="2.4"/>
<line x1="2899.4" y1="1399.1" x2="2899.4" y2="1951.8" stroke-width="2.4"/>
<line x1="2235.2" y1="1788" x2="2741.5" y2="1788" stroke-width="2.4"/>
<path d="M2235.2 1788L2266.2 1782.5L2266.2 1793.5Z" fill="#000" stroke="none"/>
<path d="M2438 1788L2407 1793.5L2407 1782.5Z" fill="#000" stroke="none"/>
<path d="M2438 1788L2469 1782.5L2469 1793.5Z" fill="#000" stroke="none"/>
<path d="M2516.8 1788L2485.8 1793.5L2485.8 1782.5Z" fill="#000" stroke="none"/>
<path d="M2516.8 1788L2547.8 1782.5L2547.8 1793.5Z" fill="#000" stroke="none"/>
<path d="M2603.8 1788L2572.8 1793.5L2572.8 1782.5Z" fill="#000" stroke="none"/>
<path d="M2603.8 1788L2634.8 1782.5L2634.8 1793.5Z" fill="#000" stroke="none"/>
<path d="M2741.5 1788L2710.5 1793.5L2710.5 1782.5Z" fill="#000" stroke="none"/>
<text x="2296" y="1782.1" font-size="31" textLength="74.5" lengthAdjust="spacingAndGlyphs" style="stroke:#F5F7FC;stroke-width:0.5px">51.5</text>
<text x="2459.9" y="1782.1" font-size="31" textLength="41.9" lengthAdjust="spacingAndGlyphs" style="stroke:#F5F7FC;stroke-width:0.5px">20</text>
<text x="2539" y="1782.1" font-size="31" textLength="40" lengthAdjust="spacingAndGlyphs" style="stroke:#F5F7FC;stroke-width:0.5px">22</text>
<text x="2652" y="1782.1" font-size="31" textLength="41.9" lengthAdjust="spacingAndGlyphs" style="stroke:#F5F7FC;stroke-width:0.5px">35</text>
<line x1="2603.8" y1="1862.5" x2="2899.4" y2="1862.5" stroke-width="2.4"/>
<path d="M2603.8 1862.5L2634.8 1857L2634.8 1868Z" fill="#000" stroke="none"/>
<path d="M2899.4 1862.5L2868.4 1868L2868.4 1857Z" fill="#000" stroke="none"/>
<text x="2726.4" y="1856.6" font-size="31" textLength="40" lengthAdjust="spacingAndGlyphs" style="stroke:#F5F7FC;stroke-width:0.5px">75</text>
<line x1="2204" y1="1939.7" x2="2899.4" y2="1939.7" stroke-width="2.4"/>
<path d="M2204 1939.7L2235 1934.2L2235 1945.2Z" fill="#000" stroke="none"/>
<path d="M2899.4 1939.7L2868.4 1945.2L2868.4 1934.2Z" fill="#000" stroke="none"/>
<text x="2493.2" y="1933.8" font-size="31" textLength="91.7" lengthAdjust="spacingAndGlyphs" style="stroke:#F5F7FC;stroke-width:0.5px">176.5</text>
<line x1="2117.6" y1="1749.2" x2="2292" y2="1749.2" stroke-width="2.4"/>
<path d="M2204 1749.2L2173 1754.7L2173 1743.7Z" fill="#000" stroke="none"/>
<path d="M2235.2 1749.2L2266.2 1743.7L2266.2 1754.7Z" fill="#000" stroke="none"/>
<text x="2129.4" y="1743.3" font-size="31" textLength="20.6" lengthAdjust="spacingAndGlyphs" style="stroke:#F5F7FC;stroke-width:0.5px">8</text>
<line x1="2867" y1="1269.5" x2="2867" y2="1471.5" stroke-width="2.4"/>
<line x1="2809.6" y1="1460.4" x2="2867" y2="1460.4" stroke-width="2.4"/>
<path d="M2867 1460.4L2838 1465.9L2838 1454.9Z" fill="#000" stroke="none"/>
<line x1="2899.4" y1="1460.4" x2="2993" y2="1460.4" stroke-width="2.4"/>
<path d="M2899.4 1460.4L2928.4 1454.9L2928.4 1465.9Z" fill="#000" stroke="none"/>
<text x="2959" y="1452.5" font-size="31" textLength="20.6" lengthAdjust="spacingAndGlyphs" style="stroke:#F5F7FC;stroke-width:0.5px">8</text>
<line x1="2122.4" y1="702.8" x2="2150" y2="702.8" stroke-width="3"/>
<path d="M2188.5 702.8L2142.5 710.3L2142.5 695.3Z" fill="#000" stroke="none"/>
<text x="2165.5" y="681" font-size="46" font-family="Liberation Serif, serif" text-anchor="middle" textLength="26" lengthAdjust="spacingAndGlyphs">A</text>
<circle cx="4187.7" cy="1044.2" r="656.8" stroke-width="7.5" fill="none"/>
<circle cx="4187.7" cy="1044.2" r="640.9" stroke-width="6.4" fill="none"/>
<circle cx="4187.7" cy="1044.2" r="631" stroke-width="2.9" fill="none"/>
<circle cx="4187.7" cy="1044.2" r="598.5" stroke-width="2.5" fill="none" stroke-dasharray="110 12 20 12" stroke-dashoffset="40"/>
<circle cx="4187.7" cy="1044.2" r="557.3" stroke-width="13.5" fill="none"/>
<circle cx="4187.7" cy="1044.2" r="480.2" stroke-width="6.5" fill="none"/>
<path d="M4628.3 1025A441 441 0 1 0 4391.3 1435.4" stroke-width="2.5" fill="none"/>
<path d="M4391.3 1435.4A441 441 0 0 0 4628.3 1025" stroke-width="2.5" fill="none" stroke-dasharray="0 8 21 4"/>
<path d="M4129 711.3A338 338 0 0 0 3870.1 1159.8" stroke-width="2.5" fill="none"/>
<path d="M3928.8 1261.5A338 338 0 1 0 4246.4 711.3" stroke-width="2.5" fill="none"/>
<path d="M4246.4 711.3A338 338 0 0 0 4129 711.3" stroke-width="2.5" fill="none" stroke-dasharray="25 9 16 9 16 9 16 9 25"/>
<path d="M3870.1 1159.8A338 338 0 0 0 3928.8 1261.5" stroke-width="2.5" fill="none" stroke-dasharray="25 9 16 9 16 9 16 9 25"/>
<circle cx="4403.3" cy="919.7" r="205" stroke-width="4" fill="none" clip-path="url(#c_po)"/>
<circle cx="4403.3" cy="919.7" r="191.5" stroke-width="7" fill="none" clip-path="url(#c_pi)"/>
<circle cx="4403.3" cy="919.7" r="60.5" stroke-width="8" fill="none"/>
<circle cx="3972.1" cy="919.7" r="205" stroke-width="4" fill="none" clip-path="url(#c_po)"/>
<circle cx="3972.1" cy="919.7" r="191.5" stroke-width="7" fill="none" clip-path="url(#c_pi)"/>
<circle cx="3972.1" cy="919.7" r="60.5" stroke-width="8" fill="none"/>
<circle cx="4187.7" cy="1293.2" r="205" stroke-width="4" fill="none" clip-path="url(#c_po)"/>
<circle cx="4187.7" cy="1293.2" r="191.5" stroke-width="7" fill="none" clip-path="url(#c_pi)"/>
<circle cx="4187.7" cy="1293.2" r="60.5" stroke-width="8" fill="none"/>
<path d="M4242.4 792.8A257.3 257.3 0 0 0 4133 792.8" stroke-width="5" fill="none"/>
<path d="M4229 811.8A236 236 0 0 0 4146.4 811.8" stroke-width="5" fill="none"/>
<path d="M4238.7 822A228 228 0 0 0 4136.7 822" stroke-width="2.4" fill="none"/>
<path d="M4213.4 944.5A103 103 0 0 0 4162 944.5" stroke-width="8" fill="none"/>
<path d="M4215.2 955.4A93 93 0 0 0 4160.2 955.4" stroke-width="3" fill="none"/>
<path d="M4216.7 962.7A86.5 86.5 0 0 0 4158.7 962.7" stroke-width="3" fill="none"/>
<line x1="4212" y1="948.2" x2="4218.8" y2="983.7" stroke-width="2.6"/>
<line x1="4163.4" y1="948.2" x2="4156.6" y2="983.7" stroke-width="2.6"/>
<path d="M3942.6 1122.6A257.3 257.3 0 0 0 3997.3 1217.3" stroke-width="5" fill="none"/>
<path d="M3965.8 1124.6A236 236 0 0 0 4007.1 1196.2" stroke-width="5" fill="none"/>
<path d="M3969.8 1111.2A228 228 0 0 0 4020.7 1199.4" stroke-width="2.4" fill="none"/>
<path d="M4088.5 1071.8A103 103 0 0 0 4114.2 1116.4" stroke-width="8" fill="none"/>
<path d="M4097 1064.8A93 93 0 0 0 4124.5 1112.4" stroke-width="3" fill="none"/>
<path d="M4102.6 1059.8A86.5 86.5 0 0 0 4131.7 1110.1" stroke-width="3" fill="none"/>
<line x1="4092.4" y1="1071.2" x2="4119.8" y2="1047.5" stroke-width="2.6"/>
<line x1="4116.7" y1="1113.2" x2="4150.9" y2="1101.4" stroke-width="2.6"/>
<path d="M4378.1 1217.3A257.3 257.3 0 0 0 4432.8 1122.6" stroke-width="5" fill="none"/>
<path d="M4368.3 1196.2A236 236 0 0 0 4409.6 1124.6" stroke-width="5" fill="none"/>
<path d="M4354.7 1199.4A228 228 0 0 0 4405.6 1111.2" stroke-width="2.4" fill="none"/>
<path d="M4261.2 1116.4A103 103 0 0 0 4286.9 1071.8" stroke-width="8" fill="none"/>
<path d="M4250.9 1112.4A93 93 0 0 0 4278.4 1064.8" stroke-width="3" fill="none"/>
<path d="M4243.7 1110.1A86.5 86.5 0 0 0 4272.8 1059.8" stroke-width="3" fill="none"/>
<line x1="4258.7" y1="1113.2" x2="4224.5" y2="1101.4" stroke-width="2.6"/>
<line x1="4283" y1="1071.2" x2="4255.6" y2="1047.5" stroke-width="2.6"/>
<circle cx="4187.7" cy="1044.2" r="67" stroke-width="7.5" fill="none"/>
<circle cx="4187.7" cy="1044.2" r="51.5" stroke-width="3.5" fill="none"/>
<path d="M4178.7 1044.2L4196.7 1044.2M4205.7 1044.2L4854.6 1044.2M3518.6 1044.2L4169.7 1044.2" stroke-width="2.5" fill="none"/>
<path d="M4187.7 1035.2L4187.7 1053.2M4187.7 1062.2L4187.7 1712.7M4187.7 252.7L4187.7 1026.2" stroke-width="2.5" fill="none"/>
<circle cx="4786.2" cy="1044.2" r="25.3" stroke-width="3.7" fill="none"/>
<circle cx="4740.6" cy="815.2" r="25.3" stroke-width="3.7" fill="none"/>
<path d="M4734.6 817.7L4746.6 812.7M4738.2 809.2L4743.1 821.2M4707.1 829.1L4721.9 822.9M4759.4 807.4L4774.2 801.3" stroke-width="2" fill="none"/>
<circle cx="4610.9" cy="621" r="25.3" stroke-width="3.7" fill="none"/>
<path d="M4606.3 625.6L4615.5 616.4M4606.3 616.4L4615.5 625.6M4585.2 646.7L4596.5 635.4M4625.3 606.6L4636.6 595.3" stroke-width="2" fill="none"/>
<circle cx="4416.7" cy="491.3" r="25.3" stroke-width="3.7" fill="none"/>
<path d="M4414.2 497.3L4419.2 485.3M4410.7 488.8L4422.7 493.7M4402.8 524.8L4409 510M4424.5 472.5L4430.6 457.7" stroke-width="2" fill="none"/>
<circle cx="4187.7" cy="445.7" r="25.3" stroke-width="3.7" fill="none"/>
<circle cx="3958.7" cy="491.3" r="25.3" stroke-width="3.7" fill="none"/>
<path d="M3961.2 497.3L3956.2 485.3M3952.7 493.7L3964.7 488.8M3972.6 524.8L3966.4 510M3950.9 472.5L3944.8 457.7" stroke-width="2" fill="none"/>
<circle cx="3764.5" cy="621" r="25.3" stroke-width="3.7" fill="none"/>
<path d="M3769.1 625.6L3759.9 616.4M3759.9 625.6L3769.1 616.4M3790.2 646.7L3778.9 635.4M3750.1 606.6L3738.8 595.3" stroke-width="2" fill="none"/>
<circle cx="3634.8" cy="815.2" r="25.3" stroke-width="3.7" fill="none"/>
<path d="M3640.8 817.7L3628.8 812.7M3632.3 821.2L3637.2 809.2M3668.3 829.1L3653.5 822.9M3616 807.4L3601.2 801.3" stroke-width="2" fill="none"/>
<circle cx="3589.2" cy="1044.2" r="25.3" stroke-width="3.7" fill="none"/>
<circle cx="3634.8" cy="1273.2" r="25.3" stroke-width="3.7" fill="none"/>
<path d="M3640.8 1270.7L3628.8 1275.7M3637.2 1279.2L3632.3 1267.2M3668.3 1259.3L3653.5 1265.5M3616 1281L3601.2 1287.1" stroke-width="2" fill="none"/>
<circle cx="3764.5" cy="1467.4" r="25.3" stroke-width="3.7" fill="none"/>
<path d="M3769.1 1462.8L3759.9 1472M3769.1 1472L3759.9 1462.8M3790.2 1441.7L3778.9 1453M3750.1 1481.8L3738.8 1493.1" stroke-width="2" fill="none"/>
<circle cx="3958.7" cy="1597.1" r="25.3" stroke-width="3.7" fill="none"/>
<path d="M3961.2 1591.1L3956.2 1603.1M3964.7 1599.6L3952.7 1594.7M3972.6 1563.6L3966.4 1578.4M3950.9 1615.9L3944.8 1630.7" stroke-width="2" fill="none"/>
<circle cx="4187.7" cy="1642.7" r="25.3" stroke-width="3.7" fill="none"/>
<circle cx="4416.7" cy="1597.1" r="25.3" stroke-width="3.7" fill="none"/>
<path d="M4414.2 1591.1L4419.2 1603.1M4422.7 1594.7L4410.7 1599.6M4402.8 1563.6L4409 1578.4M4424.5 1615.9L4430.6 1630.7" stroke-width="2" fill="none"/>
<circle cx="4610.9" cy="1467.4" r="25.3" stroke-width="3.7" fill="none"/>
<path d="M4606.3 1462.8L4615.5 1472M4615.5 1462.8L4606.3 1472M4585.2 1441.7L4596.5 1453M4625.3 1481.8L4636.6 1493.1" stroke-width="2" fill="none"/>
<circle cx="4740.6" cy="1273.2" r="25.3" stroke-width="3.7" fill="none"/>
<path d="M4734.6 1270.7L4746.6 1275.7M4743.1 1267.2L4738.2 1279.2M4707.1 1259.3L4721.9 1265.5M4759.4 1281L4774.2 1287.1" stroke-width="2" fill="none"/>
<circle cx="4304.5" cy="457.2" r="17.6" stroke-width="7.9" fill="none"/>
<line x1="4297.6" y1="455.8" x2="4311.3" y2="458.6" stroke-width="2.2"/>
<circle cx="4070.9" cy="1631.2" r="17.6" stroke-width="7.9" fill="none"/>
<line x1="4077.8" y1="1632.6" x2="4064.1" y2="1629.8" stroke-width="2.2"/>
<circle cx="4424.6" cy="672.3" r="15.6" stroke-width="3.5" fill="none"/>
<path d="M4421.4 677.3L4427.9 667.2M4419.6 669L4429.7 675.5M4410.9 693.9L4419 681.2M4430.3 663.3L4438.4 650.7" stroke-width="2" fill="none"/>
<circle cx="4334.9" cy="628.5" r="15.6" stroke-width="3.5" fill="none"/>
<path d="M4332.9 634.2L4336.9 622.8M4329.3 626.5L4340.6 630.5M4326.4 652.6L4331.4 638.5M4338.4 618.5L4343.5 604.4" stroke-width="2" fill="none"/>
<circle cx="4237.6" cy="606" r="15.6" stroke-width="3.5" fill="none"/>
<path d="M4236.9 612L4238.3 600.1M4231.7 605.4L4243.6 606.7M4234.7 631.5L4236.4 616.6M4238.8 595.5L4240.5 580.6" stroke-width="2" fill="none"/>
<circle cx="4137.8" cy="606" r="15.6" stroke-width="3.5" fill="none"/>
<path d="M4138.5 612L4137.1 600.1M4131.8 606.7L4143.7 605.4M4140.7 631.5L4139 616.6M4136.6 595.5L4134.9 580.6" stroke-width="2" fill="none"/>
<circle cx="4040.5" cy="628.5" r="15.6" stroke-width="3.5" fill="none"/>
<path d="M4042.5 634.2L4038.5 622.8M4034.8 630.5L4046.1 626.5M4049 652.6L4044 638.5M4037 618.5L4031.9 604.4" stroke-width="2" fill="none"/>
<circle cx="3950.8" cy="672.3" r="15.6" stroke-width="3.5" fill="none"/>
<path d="M3954 677.3L3947.5 667.2M3945.7 675.5L3955.8 669M3964.5 693.9L3956.4 681.2M3945.1 663.3L3937 650.7" stroke-width="2" fill="none"/>
<circle cx="4246.4" cy="711.3" r="27" stroke-width="4" fill="none"/>
<path d="M4245.2 718.2L4247.6 704.4M4239.5 710.1L4253.3 712.6M4239.8 748.8L4242.6 733M4250.2 689.7L4253 673.9" stroke-width="2" fill="none"/>
<circle cx="4129" cy="711.3" r="27" stroke-width="4" fill="none"/>
<path d="M4130.2 718.2L4127.8 704.4M4122.1 712.6L4135.9 710.1M4135.6 748.8L4132.8 733M4125.2 689.7L4122.4 673.9" stroke-width="2" fill="none"/>
<circle cx="3747.1" cy="1025" r="15.6" stroke-width="3.5" fill="none"/>
<path d="M3753.1 1025.2L3741.1 1024.7M3746.9 1031L3747.4 1019M3772.7 1026.1L3757.7 1025.4M3736.5 1024.5L3721.5 1023.8" stroke-width="2" fill="none"/>
<circle cx="3754.1" cy="1124.6" r="15.6" stroke-width="3.5" fill="none"/>
<path d="M3760 1123.5L3748.2 1125.7M3755.2 1130.5L3753 1118.7M3779.3 1119.9L3764.5 1122.6M3743.7 1126.5L3728.9 1129.2" stroke-width="2" fill="none"/>
<circle cx="3783.3" cy="1220" r="15.6" stroke-width="3.5" fill="none"/>
<path d="M3788.8 1217.7L3777.8 1222.4M3785.7 1225.6L3780.9 1214.5M3806.8 1209.8L3793 1215.8M3773.6 1224.3L3759.8 1230.3" stroke-width="2" fill="none"/>
<circle cx="3833.2" cy="1306.5" r="15.6" stroke-width="3.5" fill="none"/>
<path d="M3838 1302.9L3828.4 1310.1M3836.8 1311.3L3829.6 1301.7M3853.8 1291.3L3841.7 1300.2M3824.7 1312.8L3812.6 1321.7" stroke-width="2" fill="none"/>
<circle cx="3901.3" cy="1379.5" r="15.6" stroke-width="3.5" fill="none"/>
<path d="M3905.2 1375L3897.4 1384.1M3905.9 1383.4L3896.7 1375.6M3917.9 1360.1L3908.2 1371.5M3894.4 1387.6L3884.7 1399" stroke-width="2" fill="none"/>
<circle cx="3984.1" cy="1435.4" r="15.6" stroke-width="3.5" fill="none"/>
<path d="M3986.8 1430L3981.3 1440.7M3989.4 1438.1L3978.7 1432.6M3995.9 1412.7L3989 1426M3979.2 1444.8L3972.2 1458.1" stroke-width="2" fill="none"/>
<circle cx="3870.1" cy="1159.8" r="27" stroke-width="4" fill="none"/>
<path d="M3876.7 1157.4L3863.5 1162.2M3872.5 1166.4L3867.7 1153.2M3905.8 1146.8L3890.8 1152.3M3849.4 1167.3L3834.4 1172.8" stroke-width="2" fill="none"/>
<circle cx="3928.8" cy="1261.5" r="27" stroke-width="4" fill="none"/>
<path d="M3934.1 1257L3923.4 1266M3933.3 1266.8L3924.3 1256.1M3957.9 1237L3945.6 1247.3M3911.9 1275.6L3899.7 1285.9" stroke-width="2" fill="none"/>
<circle cx="4391.3" cy="1435.4" r="15.6" stroke-width="3.5" fill="none"/>
<path d="M4388.6 1430L4394.1 1440.7M4396.7 1432.6L4386 1438.1M4379.5 1412.7L4386.4 1426M4396.2 1444.8L4403.2 1458.1" stroke-width="2" fill="none"/>
<circle cx="4474.1" cy="1379.5" r="15.6" stroke-width="3.5" fill="none"/>
<path d="M4470.2 1375L4478 1384.1M4478.7 1375.6L4469.5 1383.4M4457.5 1360.1L4467.2 1371.5M4481 1387.6L4490.7 1399" stroke-width="2" fill="none"/>
<circle cx="4542.2" cy="1306.5" r="15.6" stroke-width="3.5" fill="none"/>
<path d="M4537.4 1302.9L4547 1310.1M4545.8 1301.7L4538.6 1311.3M4521.6 1291.3L4533.7 1300.2M4550.7 1312.8L4562.8 1321.7" stroke-width="2" fill="none"/>
<circle cx="4592.1" cy="1220" r="15.6" stroke-width="3.5" fill="none"/>
<path d="M4586.6 1217.7L4597.6 1222.4M4594.5 1214.5L4589.7 1225.6M4568.6 1209.8L4582.4 1215.8M4601.8 1224.3L4615.6 1230.3" stroke-width="2" fill="none"/>
<circle cx="4621.3" cy="1124.6" r="15.6" stroke-width="3.5" fill="none"/>
<path d="M4615.4 1123.5L4627.2 1125.7M4622.4 1118.7L4620.2 1130.5M4596.1 1119.9L4610.9 1122.6M4631.7 1126.5L4646.5 1129.2" stroke-width="2" fill="none"/>
<circle cx="4628.3" cy="1025" r="15.6" stroke-width="3.5" fill="none"/>
<path d="M4622.3 1025.2L4634.3 1024.7M4628 1019L4628.5 1031M4602.7 1026.1L4617.7 1025.4M4638.9 1024.5L4653.9 1023.8" stroke-width="2" fill="none"/>
<circle cx="4446.6" cy="1261.5" r="27" stroke-width="4" fill="none"/>
<path d="M4441.3 1257L4452 1266M4451.1 1256.1L4442.1 1266.8M4417.5 1237L4429.8 1247.3M4463.5 1275.6L4475.7 1285.9" stroke-width="2" fill="none"/>
<circle cx="4505.3" cy="1159.8" r="27" stroke-width="4" fill="none"/>
<path d="M4498.7 1157.4L4511.9 1162.2M4507.7 1153.2L4502.9 1166.4M4469.6 1146.8L4484.6 1152.3M4526 1167.3L4541 1172.8" stroke-width="2" fill="none"/>
<circle cx="4187.7" cy="670.9" r="11" stroke-width="3" fill="none"/>
<line x1="4129" y1="711.3" x2="4041" y2="212" stroke-width="2.5"/>
<line x1="4246.4" y1="711.3" x2="4334.4" y2="212" stroke-width="2.5"/>
<line x1="4137.8" y1="606" x2="4107.2" y2="337.8" stroke-width="2.5"/>
<line x1="4040.5" y1="628.5" x2="3950.4" y2="374" stroke-width="2.5"/>
<line x1="3950.8" y1="672.3" x2="3805.7" y2="444.5" stroke-width="2.5"/>
<path d="M4332.3 223.9A833 833 0 0 0 4043.1 223.9" stroke-width="2.5" fill="none"/>
<path d="M4332.3 223.9L4301.9 224.4L4303.5 214Z" fill="#000" stroke="none"/>
<path d="M4043.1 223.9L4071.9 214L4073.5 224.4Z" fill="#000" stroke="none"/>
<path d="M4187.7 265.2A779 779 0 0 0 4052.4 277" stroke-width="2.5" fill="none"/>
<path d="M4187.7 265.2L4157.8 271L4157.6 260.5Z" fill="#000" stroke="none"/>
<path d="M4052.4 277L4081.3 267.2L4082.9 277.6Z" fill="#000" stroke="none"/>
<path d="M4187.7 340.8A703.4 703.4 0 0 0 4108.1 345.3" stroke-width="2.5" fill="none"/>
<path d="M4187.7 340.8L4165.8 346.4L4165.6 335.9Z" fill="#000" stroke="none"/>
<path d="M4108.1 345.3L4129.5 337.9L4130.5 348.4Z" fill="#000" stroke="none"/>
<path d="M4108.2 346.7A702 702 0 0 0 3953.4 382.5" stroke-width="2.5" fill="none"/>
<path d="M4108.2 346.7L4079.2 355.9L4077.8 345.5Z" fill="#000" stroke="none"/>
<path d="M3953.4 382.5L3980.2 368.1L3983.5 378Z" fill="#000" stroke="none"/>
<path d="M3954 384.4A700 700 0 0 0 3811.6 453.8" stroke-width="2.5" fill="none"/>
<path d="M3954 384.4L3927.8 399.9L3924.1 390.1Z" fill="#000" stroke="none"/>
<path d="M3811.6 453.8L3834.5 433.8L3840 442.7Z" fill="#000" stroke="none"/>
<text x="4199.5" y="202.3" font-size="31" text-anchor="middle" textLength="62" lengthAdjust="spacingAndGlyphs" transform="rotate(0.8 4199.5 202.3)" style="stroke:#F5F7FC;stroke-width:0.5px">20°</text>
<text x="4123.1" y="258.8" font-size="31" text-anchor="middle" textLength="58" lengthAdjust="spacingAndGlyphs" transform="rotate(-4.7 4123.1 258.8)" style="stroke:#F5F7FC;stroke-width:0.5px">10°</text>
<text x="4145.6" y="335.9" font-size="31" text-anchor="middle" textLength="67" lengthAdjust="spacingAndGlyphs" transform="rotate(-3.4 4145.6 335.9)" style="stroke:#F5F7FC;stroke-width:0.5px">6.5°</text>
<text x="4027.1" y="354.1" font-size="31" text-anchor="middle" textLength="58" lengthAdjust="spacingAndGlyphs" transform="rotate(-13.1 4027.1 354.1)" style="stroke:#F5F7FC;stroke-width:0.5px">13°</text>
<text x="3881.6" y="405.3" font-size="31" text-anchor="middle" textLength="58" lengthAdjust="spacingAndGlyphs" transform="rotate(-25.6 3881.6 405.3)" style="stroke:#F5F7FC;stroke-width:0.5px">13°</text>
<line x1="4528" y1="381" x2="3960.3" y2="1487.3" stroke-width="2.5"/>
<line x1="4528" y1="381" x2="4679.5" y2="381" stroke-width="2.5"/>
<path d="M4389 651.8L4398.1 622.7L4407.4 627.5Z" fill="#000" stroke="none"/>
<path d="M3986.4 1436.6L3977.3 1465.7L3968 1460.9Z" fill="#000" stroke="none"/>
<g fill="none" stroke-width="2.2"><circle cx="4580.5" cy="358.1" r="12.5"/><line x1="4573.4" y1="377.5" x2="4587.6" y2="338.7"/></g>
<text x="4605.2" y="373.6" font-size="31" textLength="61" lengthAdjust="spacingAndGlyphs" style="stroke:#F5F7FC;stroke-width:0.5px">224</text>
<line x1="4732" y1="614.5" x2="3877.7" y2="1289" stroke-width="2.5"/>
<line x1="4732" y1="614.5" x2="4882.7" y2="614.5" stroke-width="2.5"/>
<path d="M4453 834.8L4473.3 812.1L4479.8 820.3Z" fill="#000" stroke="none"/>
<path d="M3922.4 1253.6L3902.1 1276.3L3895.6 1268.1Z" fill="#000" stroke="none"/>
<g fill="none" stroke-width="2.2"><circle cx="4783.7" cy="591.6" r="12.5"/><line x1="4776.6" y1="611" x2="4790.8" y2="572.2"/></g>
<text x="4811.4" y="608.2" font-size="31" textLength="57.2" lengthAdjust="spacingAndGlyphs" style="stroke:#F5F7FC;stroke-width:0.5px">172</text>
<line x1="4461.5" y1="290.1" x2="4699.8" y2="290.1" stroke-width="2.5"/>
<line x1="4461.5" y1="290.1" x2="4209.1" y2="784.4" stroke-width="2.5"/>
<path d="M4259.6 685.5L4268.6 656.4L4277.9 661.2Z" fill="#000" stroke="none"/>
<path d="M4233.2 737.2L4224.2 766.3L4214.9 761.5Z" fill="#000" stroke="none"/>
<text x="4492.3" y="285.7" font-size="33" textLength="109.7" lengthAdjust="spacingAndGlyphs">6-M16</text>
<text x="4605.1" y="285.5" font-size="33" font-family="Liberation Sans, Noto Sans CJK SC, sans-serif" textLength="36" lengthAdjust="spacingAndGlyphs">深</text>
<text x="4645.6" y="285.7" font-size="33" textLength="41" lengthAdjust="spacingAndGlyphs">29</text>
<line x1="3479.7" y1="463" x2="3737.5" y2="463" stroke-width="2.5"/>
<line x1="3737.5" y1="463" x2="4002.9" y2="723.4" stroke-width="2.5"/>
<path d="M3938.3 660.1L3913.2 642.8L3920.6 635.3Z" fill="#000" stroke="none"/>
<path d="M3963.2 684.5L3988.3 701.7L3980.9 709.2Z" fill="#000" stroke="none"/>
<text x="3494.3" y="457.5" font-size="33" textLength="130" lengthAdjust="spacingAndGlyphs">18-M10</text>
<text x="3627.3" y="457.3" font-size="33" font-family="Liberation Sans, Noto Sans CJK SC, sans-serif" textLength="36" lengthAdjust="spacingAndGlyphs">深</text>
<text x="3670.5" y="457.5" font-size="33" textLength="38.5" lengthAdjust="spacingAndGlyphs">16</text>
<text x="4114.8" y="134.8" font-size="47" font-family="Liberation Serif, Noto Serif CJK SC, serif" textLength="94.4">视图</text>
<text x="4236" y="133.3" font-size="49" font-family="Liberation Serif, serif" textLength="23" lengthAdjust="spacingAndGlyphs">A</text>
<circle cx="2737.1" cy="2798.4" r="295.2" stroke-width="3.6" fill="none"/>
<circle cx="2737.1" cy="2798.4" r="283.2" stroke-width="3.6" fill="none"/>
<path d="M2796.3 2587.8A218.8 218.8 0 1 1 2677.9 2587.8" stroke-width="3.6" fill="none"/>
<path d="M2796.3 2599.7A207.3 207.3 0 1 1 2677.9 2599.7" stroke-width="3.6" fill="none"/>
<path d="M2677.9 2599.7 L2677.9 2552.8 L2796.3 2552.8 L2796.3 2599.7" stroke-width="3.8" fill="none"/>
<path d="M2441.1 2798.4H3033.1" stroke-width="2.4" fill="none" stroke-dasharray="44 14" stroke-dashoffset="-8"/>
<path d="M2737.1 2502.4V3094.4" stroke-width="2.4" fill="none" stroke-dasharray="44 14" stroke-dashoffset="-8"/>
<line x1="2677.9" y1="2552.8" x2="2677.9" y2="2429.3" stroke-width="2.4"/>
<line x1="2796.3" y1="2552.8" x2="2796.3" y2="2429.3" stroke-width="2.4"/>
<line x1="2677.9" y1="2442.8" x2="2962" y2="2442.8" stroke-width="2.4"/>
<path d="M2677.9 2442.8L2708.9 2437.3L2708.9 2448.3Z" fill="#000" stroke="none"/>
<path d="M2796.3 2442.8L2765.3 2448.3L2765.3 2437.3Z" fill="#000" stroke="none"/>
<text x="2804.9" y="2436" font-size="31" textLength="35.2" lengthAdjust="spacingAndGlyphs" style="stroke:#F5F7FC;stroke-width:0.5px">10</text>
<text x="2855.7" y="2436" font-size="25" textLength="94.8" lengthAdjust="spacingAndGlyphs" style="stroke:#F5F7FC;stroke-width:0.5px">±0.018</text>
<line x1="2282.6" y1="2543" x2="2521.7" y2="2543" stroke-width="2.4"/>
<line x1="2521.7" y1="2543" x2="2907.5" y2="3000.4" stroke-width="2.4"/>
<path d="M2603.5 2639.9L2579.3 2619.8L2587.7 2612.7Z" fill="#000" stroke="none"/>
<path d="M2870.7 2956.9L2894.9 2977L2886.5 2984.1Z" fill="#000" stroke="none"/>
<g fill="none" stroke-width="2.2"><circle cx="2316.5" cy="2518.7" r="13"/><line x1="2309.2" y1="2538.9" x2="2323.8" y2="2498.5"/></g>
<text x="2340.2" y="2535.6" font-size="31" textLength="41.3" lengthAdjust="spacingAndGlyphs" style="stroke:#F5F7FC;stroke-width:0.5px">35</text>
<text x="2396.4" y="2503.8" font-size="25" textLength="94.8" lengthAdjust="spacingAndGlyphs" style="stroke:#F5F7FC;stroke-width:0.5px">+0.025</text>
<text x="2396.4" y="2534.9" font-size="25" textLength="94.8" lengthAdjust="spacingAndGlyphs" style="stroke:#F5F7FC;stroke-width:0.5px">+0.009</text>
<line x1="2796.3" y1="2552.8" x2="3144.9" y2="2552.8" stroke-width="2.4"/>
<line x1="2737.1" y1="3005.7" x2="3144.9" y2="3005.7" stroke-width="2.4"/>
<line x1="3133.4" y1="2552.8" x2="3133.4" y2="3005.7" stroke-width="2.4"/>
<path d="M3133.4 2552.8L3138.9 2583.8L3127.9 2583.8Z" fill="#000" stroke="none"/>
<path d="M3133.4 3005.7L3127.9 2974.7L3138.9 2974.7Z" fill="#000" stroke="none"/>
<text x="3128" y="2869.5" font-size="31" textLength="71.8" lengthAdjust="spacingAndGlyphs" transform="rotate(-90 3128 2869.5)" style="stroke:#F5F7FC;stroke-width:0.5px">38.3</text>
<text x="3097.5" y="2781.5" font-size="25" textLength="76.5" lengthAdjust="spacingAndGlyphs" transform="rotate(-90 3097.5 2781.5)" style="stroke:#F5F7FC;stroke-width:0.5px">+0.20</text>
<text x="3128" y="2762.5" font-size="25" textLength="17" lengthAdjust="spacingAndGlyphs" transform="rotate(-90 3128 2762.5)" style="stroke:#F5F7FC;stroke-width:0.5px">0</text>
<text x="2737.1" y="2246" font-size="44" font-family="Liberation Serif, serif" text-anchor="middle">I</text>
<line x1="2664" y1="2260" x2="2809.6" y2="2260" stroke-width="2.4"/>
<text x="2693" y="2307" font-size="44" font-family="Liberation Serif, serif">1</text>
<text x="2737.5" y="2305" font-size="44" font-family="Liberation Serif, serif" text-anchor="middle">:</text>
<text x="2782" y="2307" font-size="44" font-family="Liberation Serif, serif">1</text>
</svg>
</body></html>
